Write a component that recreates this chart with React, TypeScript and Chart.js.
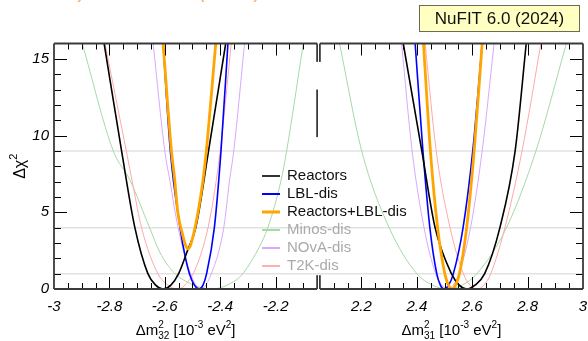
import React, { useEffect, useRef } from "react";
import { Chart, registerables } from "chart.js";
Chart.register(...registerables);

const FONT = "'Liberation Sans', Arial, Helvetica, sans-serif";

// ---------- series meta ----------
const seriesNames = ["Reactors", "LBL-dis", "Reactors+LBL-dis", "Minos-dis", "NOvA-dis", "T2K-dis"];
const seriesColors = ["#000000", "#0000ff", "#ffa500", "#a6d9a6", "#d9a8ff", "#ffa8a8"];
const seriesWidths = [1.6, 1.6, 2.8, 1, 1, 1];
const seriesOrder = [1, 2, 0, 5, 4, 3];
const legendTextColors = ["#111111", "#111111", "#111111", "#aaaaaa", "#aaaaaa", "#aaaaaa"];
const legendSwatchColors = ["#333333", "#0000ff", "#ffa500", "#a6d9a6", "#d9a8ff", "#ffb0b0"];
const legendSwatchWidths = [2, 2, 3, 2, 2, 2];

// ---------- left panel: Δm²32 (inverted ordering) ----------
const reactors32X = [-2.819, -2.756, -2.708, -2.661, -2.633, -2.606, -2.578, -2.55, -2.516, -2.488, -2.442, -2.38];
const reactors32Y = [16, 9, 4, 1, 0.25, 0, 0.25, 1, 2.6, 4, 9, 16];
const lbl32X = [-2.606, -2.58, -2.545, -2.525, -2.511, -2.493, -2.476, -2.462, -2.449, -2.421, -2.397, -2.372];
const lbl32Y = [16, 9, 4, 2, 1, 0.25, 0, 0.25, 1, 4, 9, 16];
const combined32X = [-2.606, -2.576, -2.564, -2.553, -2.535, -2.524, -2.516, -2.508, -2.497, -2.48, -2.462, -2.45, -2.416];
const combined32Y = [16, 9, 7.1, 5.0, 3.5, 2.8, 2.62, 2.8, 3.5, 5.0, 7.1, 9, 16];
const minos32X = [-2.898, -2.786, -2.726, -2.655, -2.618, -2.57, -2.51, -2.43, -2.342, -2.318, -2.258, -2.228, -2.18, -2.16, -2.1];
const minos32Y = [16, 9, 7.1, 4, 2.4, 1.13, 0.37, 0, 0.59, 1, 2.76, 4, 7.1, 9, 16];
const nova32X = [-2.642, -2.6, -2.582, -2.552, -2.507, -2.47, -2.432, -2.387, -2.366, -2.351, -2.312];
const nova32Y = [16, 9, 7.1, 4, 1, 0, 1, 4, 7.1, 9, 16];
const t2k32X = [-2.816, -2.739, -2.714, -2.684, -2.625, -2.588, -2.555, -2.527, -2.486, -2.438, -2.4, -2.36];
const t2k32Y = [16, 9, 6.68, 4, 1, 0.25, 0, 0.25, 1.46, 4.5, 9, 16];

// ---------- right panel: Δm²31 (normal ordering) ----------
const levels31 = [16, 9, 4, 1, 0.25, 0, 0.25, 1, 4, 9, 16];
const reactors31X = [2.351, 2.418, 2.466, 2.525, 2.553, 2.58, 2.61, 2.645, 2.7, 2.755, 2.795];
const lbl31X = [2.394, 2.422, 2.447, 2.472, 2.485, 2.497, 2.515, 2.532, 2.567, 2.602, 2.636];
const combined31X = [2.424, 2.449, 2.475, 2.501, 2.514, 2.527, 2.54, 2.554, 2.58, 2.607, 2.636];
const minos31X = [2.121, 2.201, 2.3, 2.4, 2.457, 2.51, 2.563, 2.617, 2.724, 2.83, 2.94];
const nova31X = [2.345, 2.383, 2.426, 2.468, 2.49, 2.51, 2.531, 2.552, 2.594, 2.636, 2.679];
const t2k31X = [2.43, 2.47, 2.52, 2.568, 2.592, 2.617, 2.642, 2.667, 2.718, 2.78, 2.848];

// ---------- axes ----------
const leftRange = [-3, -2.05];
const rightRange = [2.05, 3];
const panelGap = 0.01;
const leftTickValues = [-3, -2.8, -2.6, -2.4, -2.2];
const leftTickLabels = ["-3", "-2.8", "-2.6", "-2.4", "-2.2"];
const rightTickValues = [2.2, 2.4, 2.6, 2.8, 3];
const rightTickLabels = ["2.2", "2.4", "2.6", "2.8", "3"];
const yTickValues = [0, 5, 10, 15];
const yTickLabels = ["0", "5", "10", "15"];
const yMax = 16;
const refLevels = [1, 4, 9];

const leftWidth = leftRange[1] - leftRange[0];
const uLeft = (x: number) => x - leftRange[0];
const uRight = (x: number) => leftWidth + panelGap + (x - rightRange[0]);
const U_MAX = uRight(rightRange[1]);

const leftCurves: [number[], number[]][] = [
  [reactors32X, reactors32Y],
  [lbl32X, lbl32Y],
  [combined32X, combined32Y],
  [minos32X, minos32Y],
  [nova32X, nova32Y],
  [t2k32X, t2k32Y],
];
const rightCurves: [number[], number[]][] = [
  [reactors31X, levels31],
  [lbl31X, levels31],
  [combined31X, levels31],
  [minos31X, levels31],
  [nova31X, levels31],
  [t2k31X, levels31],
];

function buildDatasets() {
  const ds: any[] = [];
  seriesNames.forEach((name, i) => {
    const mk = (pair: [number[], number[]], f: (x: number) => number, suffix: string) => ({
      label: name + suffix,
      data: pair[0].map((x, k) => ({ x: f(x), y: pair[1][k] })),
      borderColor: seriesColors[i],
      backgroundColor: seriesColors[i],
      borderWidth: seriesWidths[i],
      pointRadius: 0,
      fill: false,
      cubicInterpolationMode: "monotone",
      order: seriesOrder[i],
    });
    ds.push(mk(leftCurves[i], uLeft, ""));
    ds.push(mk(rightCurves[i], uRight, " (31)"));
  });
  return ds;
}

type Part = { t: string; size: number; dy?: number; sub?: string };

function drawRich(ctx: CanvasRenderingContext2D, parts: Part[], cx: number, baseline: number) {
  const widths = parts.map((p) => {
    ctx.font = `${p.size}px ${FONT}`;
    let w = ctx.measureText(p.t).width;
    if (p.sub) w = Math.max(w, ctx.measureText(p.sub).width);
    return w;
  });
  const total = widths.reduce((a, b) => a + b, 0);
  let x = cx - total / 2;
  parts.forEach((p, i) => {
    ctx.font = `${p.size}px ${FONT}`;
    ctx.fillText(p.t, x, baseline + (p.dy || 0));
    if (p.sub) ctx.fillText(p.sub, x, baseline + 4);
    x += widths[i];
  });
}

const decor = {
  id: "decor",
  beforeDatasetsDraw(chart: any) {
    const { ctx, chartArea: a, scales } = chart;
    const y = scales.y;
    ctx.save();
    ctx.strokeStyle = "#e2e2e2";
    ctx.lineWidth = 1.5;
    for (const v of refLevels) {
      const py = y.getPixelForValue(v);
      ctx.beginPath();
      ctx.moveTo(a.left, py);
      ctx.lineTo(a.right, py);
      ctx.stroke();
    }
    ctx.restore();
  },
  afterDatasetsDraw(chart: any) {
    const { ctx, chartArea: a, scales } = chart;
    const xs = scales.x;
    const ys = scales.y;
    const line = (x1: number, y1: number, x2: number, y2: number) => {
      ctx.beginPath();
      ctx.moveTo(x1, y1);
      ctx.lineTo(x2, y2);
      ctx.stroke();
    };
    ctx.save();
    const lx0 = xs.getPixelForValue(uLeft(leftRange[0]));
    const lx1 = xs.getPixelForValue(uLeft(leftRange[1]));
    const rx0 = xs.getPixelForValue(uRight(rightRange[0]));
    const rx1 = xs.getPixelForValue(uRight(rightRange[1]));
    const top = a.top;
    const bot = a.bottom;

    // ticks
    ctx.strokeStyle = "#000";
    ctx.lineWidth = 1;
    const panels = [
      { r: leftRange, f: uLeft },
      { r: rightRange, f: uRight },
    ];
    for (const p of panels) {
      for (let k = 1; k < 19; k++) {
        const v = p.r[0] + k * 0.05;
        const major = Math.abs(v * 5 - Math.round(v * 5)) < 1e-6;
        const len = major ? 12 : 6;
        const px = Math.round(xs.getPixelForValue(p.f(v))) + 0.5;
        line(px, bot, px, bot - len);
        line(px, top, px, top + len);
      }
    }
    for (let k = 1; k < yMax; k++) {
      const major = k % 5 === 0;
      const len = major ? 13 : 7;
      const py = Math.round(ys.getPixelForValue(k)) + 0.5;
      line(lx0, py, lx0 + len, py);
      line(rx1, py, rx1 - len, py);
    }

    // frames
    ctx.strokeStyle = "#3a3a3a";
    ctx.lineWidth = 1.8;
    line(lx0, top, lx1, top);
    line(lx0, bot, lx1, bot);
    line(lx0, top, lx0, bot);
    line(rx0, top, rx1, top);
    line(rx0, bot, rx1, bot);
    line(rx1, top, rx1, bot);
    const innerLeft = [[14.8, 16], [9.9, 13], [0, 0.9]];
    const innerRight = [[14.8, 16], [0, 0.9]];
    for (const s of innerLeft) line(lx1, ys.getPixelForValue(s[0]), lx1, ys.getPixelForValue(s[1]));
    for (const s of innerRight) line(rx0, ys.getPixelForValue(s[0]), rx0, ys.getPixelForValue(s[1]));

    // tick labels
    ctx.fillStyle = "#000";
    ctx.font = `italic 15px ${FONT}`;
    ctx.textAlign = "center";
    ctx.textBaseline = "middle";
    leftTickValues.forEach((v, i) => ctx.fillText(leftTickLabels[i], xs.getPixelForValue(uLeft(v)), bot + 18));
    rightTickValues.forEach((v, i) => ctx.fillText(rightTickLabels[i], xs.getPixelForValue(uRight(v)), bot + 18));
    ctx.textAlign = "right";
    yTickValues.forEach((v, i) => ctx.fillText(yTickLabels[i], lx0 - 5, ys.getPixelForValue(v)));

    // axis titles
    ctx.textAlign = "left";
    ctx.textBaseline = "alphabetic";
    drawRich(ctx, [
      { t: "\u0394m", size: 15 },
      { t: "2", size: 10, dy: -7, sub: "32" },
      { t: " [10", size: 15 },
      { t: "-3", size: 10, dy: -7 },
      { t: " eV", size: 15 },
      { t: "2", size: 10, dy: -7 },
      { t: "]", size: 15 },
    ], (lx0 + lx1) / 2, bot + 46);
    drawRich(ctx, [
      { t: "\u0394m", size: 15 },
      { t: "2", size: 10, dy: -7, sub: "31" },
      { t: " [10", size: 15 },
      { t: "-3", size: 10, dy: -7 },
      { t: " eV", size: 15 },
      { t: "2", size: 10, dy: -7 },
      { t: "]", size: 15 },
    ], (rx0 + rx1) / 2, bot + 46);

    ctx.save();
    ctx.translate(25, (top + bot) / 2);
    ctx.rotate(-Math.PI / 2);
    drawRich(ctx, [
      { t: "\u0394\u03c7", size: 16 },
      { t: "2", size: 11, dy: -8 },
    ], 0, 0);
    ctx.restore();

    // legend
    const lgX = 262;
    const lgY = 176;
    ctx.font = `15px ${FONT}`;
    ctx.textBaseline = "middle";
    seriesNames.forEach((name, i) => {
      const yy = lgY + i * 18;
      ctx.strokeStyle = legendSwatchColors[i];
      ctx.lineWidth = legendSwatchWidths[i];
      line(lgX, yy, lgX + 18, yy);
      ctx.fillStyle = legendTextColors[i];
      ctx.fillText(name, lgX + 25, yy);
    });

    // NuFIT box
    ctx.fillStyle = "#ffffc2";
    ctx.fillRect(419.5, 5.5, 160, 26);
    ctx.strokeStyle = "#6a6a55";
    ctx.lineWidth = 1;
    ctx.strokeRect(419.5, 5.5, 160, 26);
    ctx.fillStyle = "#111";
    ctx.font = `17px ${FONT}`;
    ctx.textAlign = "center";
    ctx.textBaseline = "middle";
    ctx.fillText("NuFIT 6.0 (2024)", 499.5, 19);

    // cropped orange title (only its bottom edge is inside the picture)
    ctx.fillStyle = "#f4ae7c";
    ctx.font = `italic 22px ${FONT}`;
    ctx.textAlign = "left";
    ctx.textBaseline = "alphabetic";
    ctx.fillText("\u03bd, \u03bd, \u03bd)", 22, -3);
    ctx.fillText("(2024)", 199, -3);
    ctx.restore();
  },
};

export default function App() {
  const ref = useRef<HTMLCanvasElement>(null);
  useEffect(() => {
    const canvas = ref.current!;
    const chart = new Chart(canvas, {
      type: "line",
      data: { datasets: buildDatasets() },
      options: {
        animation: false,
        responsive: false,
        maintainAspectRatio: false,
        layout: { padding: { left: 54, right: 5, top: 43.5, bottom: 52 } },
        scales: {
          x: { type: "linear", min: 0, max: U_MAX, display: false },
          y: { type: "linear", min: 0, max: yMax, display: false },
        },
        plugins: { legend: { display: false }, tooltip: { enabled: false } },
        elements: { point: { radius: 0 } },
      } as any,
      plugins: [decor as any],
    });
    return () => chart.destroy();
  }, []);
  return (
    <div style={{ position: "fixed", left: 0, top: 0, width: 588, height: 341, background: "#fff" }}>
      <canvas ref={ref} width={588} height={341} style={{ display: "block", width: 588, height: 341 }} />
    </div>
  );
}
